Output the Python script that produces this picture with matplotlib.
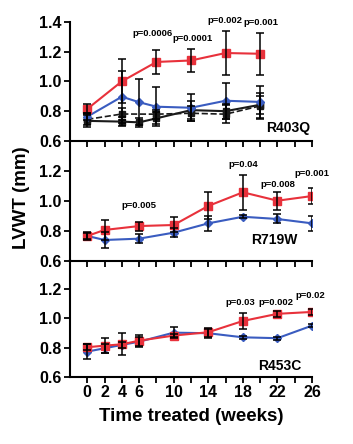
import matplotlib
matplotlib.use("Agg")
import matplotlib.pyplot as plt

plt.rcParams['font.family'] = ['Liberation Sans', 'DejaVu Sans']
plt.rcParams['font.weight'] = 'bold'

# ---------------- data ----------------
# Panel 1: R403Q
r403_red_w = [0, 4, 8, 12, 16, 20]
r403_red_v = [0.815, 1.00, 1.13, 1.14, 1.19, 1.185]
r403_red_e = [0.03, 0.148, 0.08, 0.077, 0.15, 0.142]
r403_blue_w = [0, 4, 6, 8, 12, 16, 20]
r403_blue_v = [0.763, 0.897, 0.86, 0.83, 0.823, 0.87, 0.862]
r403_blue_e = [0.02, 0.175, 0.155, 0.13, 0.09, 0.12, 0.11]
r403_blk_w = [0, 4, 6, 8, 12, 16, 20]
r403_blk_v = [0.735, 0.73, 0.725, 0.752, 0.807, 0.80, 0.843]
r403_blk_e = [0.04, 0.03, 0.03, 0.04, 0.06, 0.05, 0.06]
r403_dash_w = [0, 4, 8, 12, 16, 20]
r403_dash_v = [0.745, 0.781, 0.78, 0.786, 0.78, 0.835]
r403_dash_e = [0.04, 0.04, 0.03, 0.05, 0.06, 0.09]
r403_p_text = ["p=0.0006", "p=0.0001", "p=0.002", "p=0.001"]
r403_p_x = [7.6, 12.2, 15.9, 20.1]
r403_p_y = [1.322, 1.284, 1.41, 1.393]

# Panel 2: R719W
r719_w = [0, 2, 6, 10, 14, 18, 22, 26]
r719_red_v = [0.765, 0.805, 0.831, 0.838, 0.965, 1.056, 1.00, 1.031]
r719_red_e = [0.025, 0.066, 0.03, 0.05, 0.09, 0.115, 0.06, 0.055]
r719_blue_v = [0.765, 0.738, 0.747, 0.787, 0.849, 0.893, 0.878, 0.849]
r719_blue_e = [0.02, 0.055, 0.03, 0.03, 0.05, 0.01, 0.03, 0.05]
r719_p_text = ["p=0.005", "p=0.04", "p=0.008", "p=0.001"]
r719_p_x = [6.0, 18.0, 22.0, 26.0]
r719_p_y = [0.97, 1.24, 1.11, 1.18]

# Panel 3: R453C
r453_w = [0, 2, 4, 6, 10, 14, 18, 22, 26]
r453_red_v = [0.802, 0.813, 0.822, 0.847, 0.882, 0.905, 0.982, 1.031, 1.044]
r453_red_e = [0.02, 0.05, 0.075, 0.04, 0.01, 0.03, 0.055, 0.02, 0.02]
r453_blue_v = [0.772, 0.795, 0.818, 0.84, 0.902, 0.898, 0.87, 0.864, 0.95]
r453_blue_e = [0.05, 0.03, 0.02, 0.03, 0.04, 0.03, 0.01, 0.01, 0.01]
r453_p_text = ["p=0.03", "p=0.002", "p=0.02"]
r453_p_x = [17.7, 21.8, 25.8]
r453_p_y = [1.108, 1.108, 1.154]

x_tick_labels = [0, 2, 4, 6, 10, 14, 18, 22, 26]

RED = '#e8313b'
BLUE = '#3a5cc0'
BLK = '#1a1a1a'

W, H = 353, 444
fig = plt.figure(figsize=(W / 100, H / 100), dpi=100)

def ax_at(top_px, bot_px):
    left = 70 / W
    right = 312 / W
    return fig.add_axes([left, 1 - bot_px / H, right - left, (bot_px - top_px) / H])

axes = [ax_at(21.7, 141), ax_at(140.7, 260.7), ax_at(260, 376.7)]

def series(ax, w, v, e, color, marker, ms, ls='-', lw=1.5):
    ax.plot(w, v, color=color, lw=lw, ls=ls, marker=marker, ms=ms,
            mec=color, mfc=color, zorder=3)
    ax.errorbar(w, v, yerr=e, fmt='none', ecolor='black', elinewidth=1.1,
                capsize=3, capthick=1.1, zorder=4)

P_FS = 6.8

# Panel 1
a = axes[0]
series(a, r403_dash_w, r403_dash_v, r403_dash_e, BLK, 's', 4.5, ls='--', lw=1.2)
series(a, r403_blk_w, r403_blk_v, r403_blk_e, BLK, 's', 4.5, lw=1.5)
series(a, r403_blue_w, r403_blue_v, r403_blue_e, BLUE, 'D', 4.5)
series(a, r403_red_w, r403_red_v, r403_red_e, RED, 's', 6)
for t, x, y in zip(r403_p_text, r403_p_x, r403_p_y):
    a.text(x, y, t, ha='center', va='center', fontsize=P_FS, fontweight='bold', clip_on=False)
a.text(25.8, 0.685, "R403Q", ha='right', va='center', fontsize=10, fontweight='bold')

# Panel 2
a = axes[1]
series(a, r719_w, r719_blue_v, r719_blue_e, BLUE, 'D', 4.5)
series(a, r719_w, r719_red_v, r719_red_e, RED, 's', 6)
for t, x, y in zip(r719_p_text, r719_p_x, r719_p_y):
    a.text(x, y, t, ha='center', va='center', fontsize=P_FS, fontweight='bold', clip_on=False)
a.text(21.6, 0.738, "R719W", ha='center', va='center', fontsize=10, fontweight='bold')

# Panel 3
a = axes[2]
series(a, r453_w, r453_blue_v, r453_blue_e, BLUE, 'D', 4.5)
series(a, r453_w, r453_red_v, r453_red_e, RED, 's', 6)
for t, x, y in zip(r453_p_text, r453_p_x, r453_p_y):
    a.text(x, y, t, ha='center', va='center', fontsize=P_FS, fontweight='bold', clip_on=False)
a.text(22.3, 0.673, "R453C", ha='center', va='center', fontsize=10, fontweight='bold')

for i, a in enumerate(axes):
    a.set_xlim(-2, 26)
    a.set_ylim(0.6, 1.4)
    a.patch.set_alpha(0)
    for s in ['top', 'right']:
        a.spines[s].set_visible(False)
    for s in ['left', 'bottom']:
        a.spines[s].set_linewidth(1.5)
    a.spines['bottom'].set_bounds(-2, 26)
    yt = [0.6, 0.8, 1.0, 1.2, 1.4] if i == 0 else [0.6, 0.8, 1.0, 1.2]
    a.set_yticks(yt)
    a.set_yticklabels([f"{v:.1f}" for v in yt])
    a.set_xticks(list(range(0, 27, 2)))
    if i == 2:
        a.set_xticklabels([str(t) if t in x_tick_labels else '' for t in range(0, 27, 2)])
    else:
        a.set_xticklabels([])
    a.tick_params(axis='both', direction='out', length=4, width=1.3,
                  labelsize=11.5, pad=2)
    for lab in a.get_xticklabels() + a.get_yticklabels():
        lab.set_fontweight('bold')

axes[2].set_xlabel("Time treated (weeks)", fontsize=13.5, fontweight='bold', labelpad=6)
fig.text(22 / W, 1 - 198 / H, "LVWT (mm)", rotation=90, ha='center', va='center',
         fontsize=13.5, fontweight='bold')

fig.savefig("out.png", dpi=100)
